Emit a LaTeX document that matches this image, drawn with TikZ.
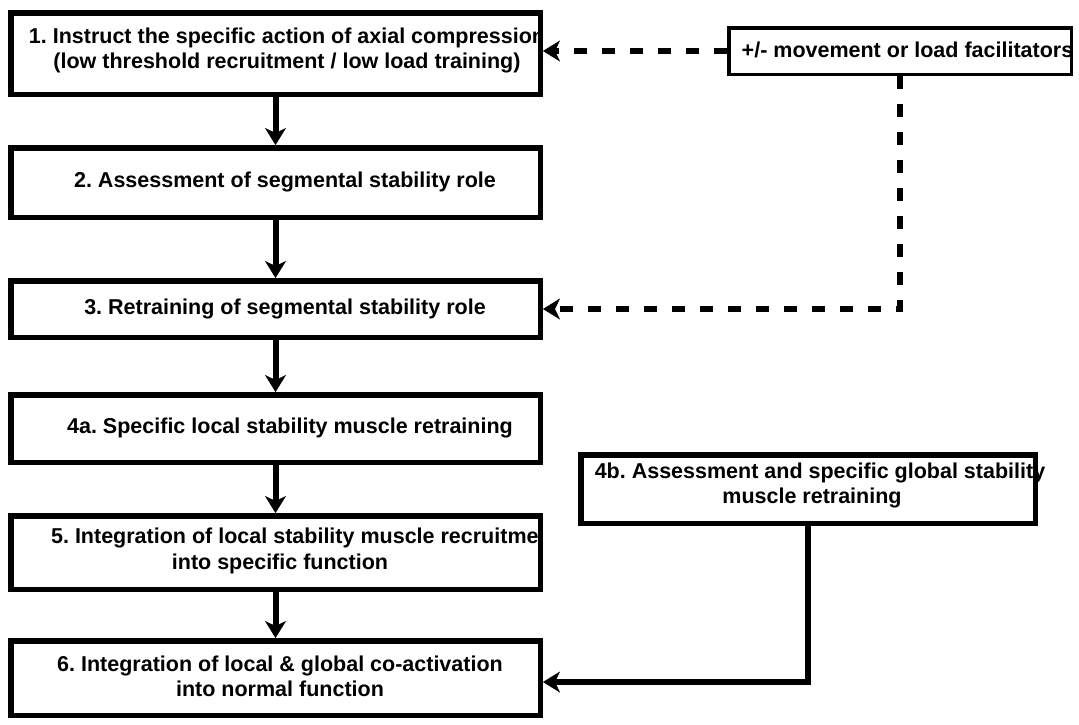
\documentclass[tikz,border=0pt]{standalone}
\usepackage{fontspec}
\setmainfont{Liberation Sans}
\usetikzlibrary{arrows.meta}
\frenchspacing
\begin{document}
\begin{tikzpicture}[x=1pt,y=-1pt,
  box/.style={draw=black, line width=5.5pt, inner sep=0pt},
  facbox/.style={draw=black, line width=3.5pt, inner sep=0pt},
  txt/.style={font=\bfseries\fontsize{21.5}{25}\selectfont, align=center, inner sep=0pt},
  tip/.style={-{Stealth[length=17pt,width=21pt,inset=5pt,line width=0.5pt]}},
  flow/.style={line width=6pt, tip},
  dashflow/.style={line width=6pt, dash pattern=on 13pt off 15pt, tip}
]
\fill[white] (0,0) rectangle (1079,724);
\useasboundingbox (0,0) rectangle (1079,724);

% texts that are clipped by their boxes
\begin{scope}
  \clip (10,12) rectangle (541,95);
  \node[txt] (t1) at (287,50.5) {1. Instruct the specific action of axial compression\\(low threshold recruitment / low load training)};
\end{scope}
\begin{scope}
  \clip (10,515) rectangle (541,590);
  \node[txt] (t5a) at (305,538) {5. Integration of local stability muscle recruitment};
\end{scope}
\begin{scope}
  \clip (729,28) rectangle (1071,74);
  \node[txt] (tf) at (907.5,50) {+/- movement or load facilitators};
\end{scope}

% boxes
\node[box, minimum width=529.5pt, minimum height=81.5pt] (b1) at (275.5,53.5) {};
\node[box, minimum width=529.5pt, minimum height=69.5pt] (b2) at (275.5,182.5) {};
\node[box, minimum width=529.5pt, minimum height=56.5pt] (b3) at (275.5,309) {};
\node[box, minimum width=529.5pt, minimum height=67.5pt] (b4a) at (275.5,428.5) {};
\node[box, minimum width=529.5pt, minimum height=73.5pt] (b5) at (275.5,552.5) {};
\node[box, minimum width=529.5pt, minimum height=74.5pt] (b6) at (275.5,678) {};
\node[box, minimum width=454.5pt, minimum height=68.5pt] (b4b) at (808,489) {};
\node[facbox, minimum width=342.5pt, minimum height=46.5pt] (fac) at (900,51) {};

% other texts
\node[txt] (t2) at (285,182) {2. Assessment of segmental stability role};
\node[txt] (t3) at (285,309) {3. Retraining of segmental stability role};
\node[txt] (t4a) at (290,428) {4a. Specific local stability muscle retraining};
\node[txt] (t5b) at (280,564) {into specific function};
\node[txt] (t6) at (280,676) {6. Integration of local \& global co-activation\\into normal function};
\node[txt] (t4b1) at (820,473) {4b. Assessment and specific global stability};
\node[txt] (t4b2) at (812,498) {muscle retraining};

% connectors
\draw[flow] (b1.south) -- (b2.north);
\draw[flow] (b2.south) -- (b3.north);
\draw[flow] (b3.south) -- (b4a.north);
\draw[flow] (b4a.south) -- (b5.north);
\draw[flow] (b5.south) -- (b6.north);
\draw[dashflow] (fac.west) -- (fac.west -| b1.east);
\draw[dashflow] (fac.south) -- (fac.south |- b3.east) -- (b3.east);
\coordinate (c6) at ([yshift=-4pt]b6.east);
\draw[flow] (b4b.south) -- (b4b.south |- c6) -- (c6);
\end{tikzpicture}
\end{document}
